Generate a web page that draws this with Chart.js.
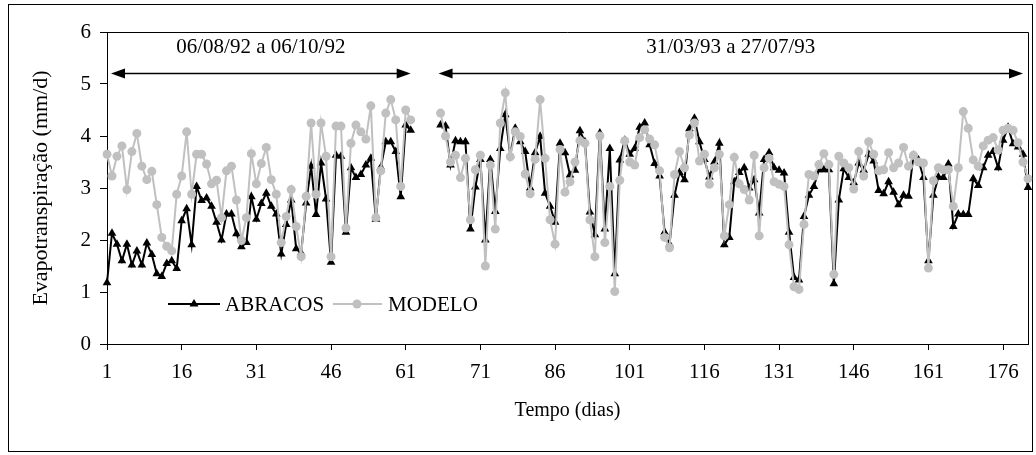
<!DOCTYPE html>
<html>
<head>
<meta charset="utf-8">
<title>Evapotranspiração</title>
<script src="https://cdn.jsdelivr.net/npm/chart.js@4.4.0/dist/chart.umd.min.js"></script>
<style>
  body { margin: 0; background: #ffffff; }
</style>
</head>
<body>
<canvas id="graficoEvapo" width="1036" height="455"></canvas>
<script>
//Valori - periodo 1 (06/08/92 a 06/10/92)
var abracos1 = [1.18, 2.13, 1.92, 1.60, 1.92, 1.52, 1.79, 1.52, 1.94, 1.72, 1.35, 1.30, 1.55, 1.60, 1.45, 2.37, 2.60, 1.91, 3.03, 2.76, 2.81, 2.65,
  2.34, 2.00, 2.50, 2.50, 2.12, 1.87, 1.95, 2.83, 2.40, 2.70, 2.90, 2.65, 2.50, 1.73, 2.30, 2.77, 1.83, 1.75, 2.71, 3.42, 2.49, 3.48,
  2.79, 1.57, 3.63, 3.61, 2.15, 3.39, 3.20, 3.26, 3.44, 3.57, 2.40, 3.40, 3.89, 3.89, 3.70, 2.83, 4.21, 4.11];
var modelo1 = [3.65, 3.23, 3.61, 3.81, 2.97, 3.70, 4.05, 3.42, 3.16, 3.32, 2.68, 2.05, 1.88, 1.79, 2.88, 3.23, 4.08, 2.88, 3.65, 3.65, 3.46, 3.08,
  3.15, 2.43, 3.33, 3.42, 2.77, 1.99, 2.43, 3.66, 3.08, 3.47, 3.78, 3.16, 2.88, 1.95, 2.45, 2.97, 2.26, 1.68, 2.84, 4.25, 2.88, 4.25,
  3.61, 1.68, 4.19, 4.19, 2.23, 3.86, 4.21, 4.08, 3.94, 4.58, 2.43, 3.33, 4.44, 4.70, 4.31, 3.03, 4.50, 4.31];

//Valori - periodo 2 (31/03/93 a 27/07/93)
var abracos2 = [4.21, 4.19, 3.44, 3.91, 3.89, 3.89, 2.21, 3.02, 3.55, 2.00, 3.55, 2.55, 3.76, 4.41, 3.63, 4.15, 3.89, 3.70, 3.00, 3.68, 3.99, 2.90,
  2.65, 2.34, 3.86, 3.68, 3.25, 3.34, 4.10, 3.89, 2.54, 2.10, 4.06, 2.21, 3.76, 1.35, 3.54, 3.92, 3.65, 3.76, 4.17, 4.25, 3.83, 3.47,
  3.23, 2.15, 1.92, 2.86, 3.30, 3.16, 4.14, 4.34, 3.89, 3.55, 3.21, 3.50, 3.86, 1.91, 2.05, 3.12, 3.30, 3.39, 3.00, 3.16, 2.52,
  3.55, 3.68, 3.39, 3.34, 3.29, 2.15, 1.28, 1.23, 2.45, 2.86, 3.03, 3.35, 3.35, 3.35, 1.16, 2.77, 3.37, 3.20, 3.10, 3.48, 3.34, 3.65, 3.52,
  2.95, 2.89, 3.12, 2.92, 2.68, 2.86, 2.84, 3.63, 3.54, 3.20, 1.60, 2.86, 3.21, 3.20, 3.46, 2.26, 2.50, 2.49, 2.49, 3.18, 3.05, 3.39,
  3.63, 3.70, 3.39, 3.92, 4.17, 3.85, 3.79, 3.65, 3.01];
var modelo2 = [4.44, 4.00, 3.50, 3.63, 3.20, 3.57, 2.39, 3.35, 3.63, 1.50, 3.44, 2.21, 4.25, 4.83, 3.60, 4.08, 3.99, 3.27, 2.89, 3.55, 4.70, 3.57,
  2.39, 1.92, 3.74, 2.92, 3.12, 3.50, 3.91, 3.86, 2.39, 1.68, 4.00, 1.95, 3.03, 1.01, 3.15, 3.91, 3.50, 3.44, 3.97, 4.12, 3.94, 3.83,
  3.33, 2.05, 1.85, 3.26, 3.70, 3.39, 4.02, 4.25, 3.52, 3.65, 3.07, 3.39, 3.65, 2.08, 2.68, 3.59, 3.08, 2.97, 2.77, 3.63, 2.08,
  3.39, 3.57, 3.12, 3.07, 3.03, 1.91, 1.10, 1.05, 2.30, 3.26, 3.23, 3.45, 3.66, 3.45, 1.34, 3.61, 3.48, 3.39, 2.98, 3.70, 3.23, 3.89, 3.65,
  3.33, 3.35, 3.68, 3.39, 3.48, 3.78, 3.42, 3.63, 3.50, 3.48, 1.46, 3.14, 3.39, 3.35, 3.35, 2.65, 3.39, 4.47, 4.15, 3.54, 3.42, 3.81,
  3.92, 3.97, 3.73, 4.11, 4.15, 4.11, 3.87, 3.50, 3.18];

//categorie vuote tra i due periodi
var vuoti = 5;
//etichette mostrate sull'asse x
var tickLabels = ['1', '16', '31', '46', '61', '71', '86', '101', '116', '131', '146', '161', '176'];
var yTicks = [0, 1, 2, 3, 4, 5, 6];
//testi dei periodi e posizione delle frecce (in categorie)
var periodi = ['06/08/92 a 06/10/92', '31/03/93 a 27/07/93'];
var frecce = [[0.8, 61.0], [66.6, 184.0]];

var FONT = "'Liberation Serif', 'Times New Roman', serif";

//Funzione che costruisce le etichette dei giorni
function costruisciEtichette() {
  var etichette = [];
  var giorno = 1;
  for (var i = 0; i < abracos1.length; i++) {
    etichette.push(String(giorno));
    giorno++;
  }
  for (var j = 0; j < vuoti; j++) {
    etichette.push('');
  }
  for (var k = 0; k < abracos2.length; k++) {
    etichette.push(String(giorno));
    giorno++;
  }
  return etichette;
}

//Funzione che unisce i due periodi con il buco in mezzo
function costruisciSerie(p1, p2) {
  var serie = p1.slice();
  for (var i = 0; i < vuoti; i++) {
    serie.push(null);
  }
  return serie.concat(p2);
}

//plugin per cornice, bordo area e frecce dei periodi
var decorazioni = {
  id: 'decorazioni',
  beforeDraw: function (chart) {
    var ctx = chart.ctx;
    ctx.save();
    ctx.fillStyle = '#ffffff';
    ctx.fillRect(0, 0, chart.width, chart.height);
    ctx.strokeStyle = '#000000';
    ctx.lineWidth = 1;
    ctx.strokeRect(8.5, 4.5, 1024, 447);
    ctx.restore();
  },
  beforeDatasetsDraw: function (chart) {
    var ctx = chart.ctx;
    var a = chart.chartArea;
    ctx.save();
    ctx.strokeStyle = '#000000';
    ctx.lineWidth = 1;
    ctx.beginPath();
    ctx.moveTo(a.left, Math.round(a.top) + 0.5);
    ctx.lineTo(Math.round(a.right) + 0.5, Math.round(a.top) + 0.5);
    ctx.lineTo(Math.round(a.right) + 0.5, a.bottom);
    ctx.stroke();
    ctx.restore();
  },
  afterDraw: function (chart) {
    var ctx = chart.ctx;
    var xs = chart.scales.x;
    var ys = chart.scales.y;
    ctx.save();
    for (var i = 0; i < frecce.length; i++) {
      var x1 = xs.getPixelForValue(frecce[i][0]);
      var x2 = xs.getPixelForValue(frecce[i][1]);
      var y = Math.round(ys.getPixelForValue(5.22)) + 0.5;
      disegnaFreccia(ctx, x1, x2, y);
      ctx.fillStyle = '#000000';
      ctx.font = '21px ' + FONT;
      ctx.textAlign = 'center';
      ctx.textBaseline = 'middle';
      ctx.fillText(periodi[i], (x1 + x2) / 2, ys.getPixelForValue(5.7));
    }
    disegnaLegenda(ctx);
    ctx.restore();
  }
};

//Funzione per disegnare una freccia doppia
function disegnaFreccia(ctx, x1, x2, y) {
  var lung = 14;
  var semi = 5;
  ctx.strokeStyle = '#000000';
  ctx.fillStyle = '#000000';
  ctx.lineWidth = 1.5;
  ctx.beginPath();
  ctx.moveTo(x1 + lung - 2, y);
  ctx.lineTo(x2 - lung + 2, y);
  ctx.stroke();
  ctx.beginPath();
  ctx.moveTo(x1, y);
  ctx.lineTo(x1 + lung, y - semi);
  ctx.lineTo(x1 + lung, y + semi);
  ctx.closePath();
  ctx.fill();
  ctx.beginPath();
  ctx.moveTo(x2, y);
  ctx.lineTo(x2 - lung, y - semi);
  ctx.lineTo(x2 - lung, y + semi);
  ctx.closePath();
  ctx.fill();
}

//Funzione per la legenda dentro al grafico
function disegnaLegenda(ctx) {
  var y = 304;
  ctx.lineWidth = 2;
  ctx.strokeStyle = '#000000';
  ctx.beginPath();
  ctx.moveTo(168, y);
  ctx.lineTo(220, y);
  ctx.stroke();
  ctx.fillStyle = '#000000';
  ctx.beginPath();
  ctx.moveTo(194, y - 5);
  ctx.lineTo(198.5, y + 2.6);
  ctx.lineTo(189.5, y + 2.6);
  ctx.closePath();
  ctx.fill();
  ctx.strokeStyle = '#c0c0c0';
  ctx.beginPath();
  ctx.moveTo(333, y);
  ctx.lineTo(382, y);
  ctx.stroke();
  ctx.fillStyle = '#c0c0c0';
  ctx.beginPath();
  ctx.arc(357, y, 4.5, 0, Math.PI * 2);
  ctx.fill();
  ctx.fillStyle = '#000000';
  ctx.font = '21px ' + FONT;
  ctx.textAlign = 'left';
  ctx.textBaseline = 'middle';
  ctx.fillText('ABRACOS', 225, y + 1);
  ctx.fillText('MODELO', 388, y + 1);
}

function grafico() {
  var ctx = document.getElementById('graficoEvapo').getContext('2d');
  var chart = new Chart(ctx, {
    type: 'line',
    data: {
      labels: costruisciEtichette(),
      datasets: [{
        label: 'ABRACOS',
        data: costruisciSerie(abracos1, abracos2),
        borderColor: '#000000',
        backgroundColor: '#000000',
        borderWidth: 2,
        pointStyle: 'triangle',
        pointRadius: 5,
        pointBorderWidth: 0,
        pointBackgroundColor: '#000000',
        tension: 0,
        spanGaps: false,
        order: 2
      }, {
        label: 'MODELO',
        data: costruisciSerie(modelo1, modelo2),
        borderColor: '#c0c0c0',
        backgroundColor: '#c0c0c0',
        borderWidth: 2,
        pointStyle: 'circle',
        pointRadius: 4.5,
        pointBorderWidth: 0,
        pointBackgroundColor: '#c0c0c0',
        tension: 0,
        spanGaps: false,
        order: 1
      }]
    },
    options: {
      responsive: false,
      animation: false,
      layout: { padding: { top: 32, right: 8, left: 0, bottom: 0 } },
      plugins: {
        legend: { display: false },
        tooltip: { enabled: false }
      },
      scales: {
        x: {
          type: 'category',
          offset: false,
          afterFit: function (scale) { scale.height = 111; },
          grid: { display: true, drawOnChartArea: false, drawTicks: true, tickLength: 6, color: '#000000' },
          border: { display: true, color: '#000000', width: 1 },
          ticks: {
            autoSkip: false,
            maxRotation: 0,
            minRotation: 0,
            padding: 10,
            color: '#000000',
            font: { family: FONT, size: 21 },
            callback: function (value) {
              var l = this.getLabelForValue(value);
              return tickLabels.indexOf(l) >= 0 ? l : null;
            }
          },
          title: {
            display: true,
            text: 'Tempo (dias)',
            color: '#000000',
            font: { family: FONT, size: 20 },
            padding: { top: 0, bottom: 32 }
          }
        },
        y: {
          min: 0,
          max: 6,
          afterFit: function (scale) { scale.width = 107; },
          afterBuildTicks: function (scale) {
            scale.ticks = yTicks.map(function (v) { return { value: v }; });
          },
          grid: { display: true, drawOnChartArea: false, drawTicks: true, tickLength: 7, color: '#000000' },
          border: { display: true, color: '#000000', width: 1 },
          ticks: {
            padding: 9,
            color: '#000000',
            font: { family: FONT, size: 21 }
          },
          title: {
            display: true,
            text: 'Evapotranspiração (mm/d)',
            color: '#000000',
            font: { family: FONT, size: 22 },
            padding: { top: 28, bottom: 0 }
          }
        }
      }
    },
    plugins: [decorazioni]
  });
  return chart;
}

grafico();
</script>
</body>
</html>
